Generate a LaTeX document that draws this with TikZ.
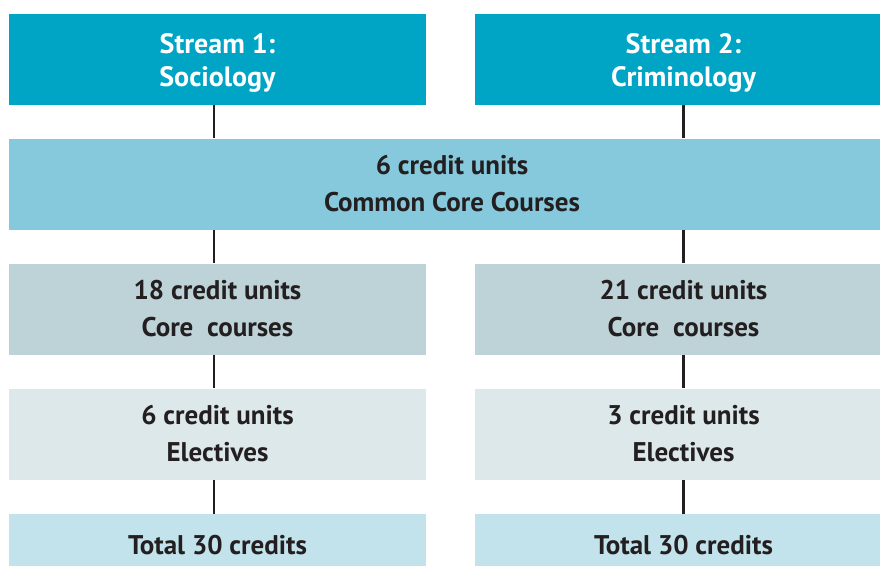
\documentclass[tikz,border=0pt]{standalone}
\usepackage{fontspec}
\setmainfont{PT Sans}
\usepackage{tikz}
\usetikzlibrary{calc}

\definecolor{streamblue}{HTML}{00A4C5}
\definecolor{commonblue}{HTML}{86C9DC}
\definecolor{coregray}{HTML}{BED3D8}
\definecolor{electgray}{HTML}{DDE8EB}
\definecolor{totalblue}{HTML}{C2E2EC}
\definecolor{ink}{HTML}{231F20}

\tikzset{box/.style={inner sep=0, align=center, font=\bfseries\fontsize{27}{37}\selectfont, text=ink,
    minimum width=417, minimum height=91}}
\tikzset{stream/.style={box, fill=streamblue, text=white, font=\bfseries\fontsize{28}{33}\selectfont}}
\tikzset{link/.style={ink, line width=2.5}}

\begin{document}
\begin{tikzpicture}[x=1pt,y=-1pt]
\clip (0,0) rectangle (880,565);
\fill[white] (0,0) rectangle (880,565);
% streams
\node[stream] (s1) at (217.5,59.5) {\rule{0pt}{26pt}Stream 1:\\Sociology};
\node[stream] (s2) at (683.5,59.5) {\rule{0pt}{26pt}Stream 2:\\Criminology};
% common core
\node[box, fill=commonblue, minimum width=886] (common) at (452,184) {6 credit units\\Common Core Courses};
% core
\node[box, fill=coregray] (core1) at (217.5,309) {18 credit units\\Core\ \ courses};
\node[box, fill=coregray] (core2) at (683.5,309) {21 credit units\\Core\ \ courses};
% electives
\node[box, fill=electgray] (elec1) at (217.5,434) {6 credit units\\Electives};
\node[box, fill=electgray] (elec2) at (683.5,434) {3 credit units\\Electives};
% totals
\node[box, fill=totalblue, minimum height=62] (tot1) at (217.5,545) {Total 30 credits};
\node[box, fill=totalblue, minimum height=62] (tot2) at (683.5,545) {Total 30 credits};
% links (left column sits a little left of centre)
\draw[link] ([xshift=-3.5]s1.south) -- ([xshift=-3.5]s1.south |- common.north);
\draw[link] (s2.south) -- (s2.south |- common.north);
\draw[link] ([xshift=-3.5]common.south -| core1.north) -- ([xshift=-3.5]core1.north);
\draw[link] (common.south -| core2.north) -- (core2.north);
\foreach \a/\b in {core1/elec1,elec1/tot1}
  \draw[link] ([xshift=-3.5]\a.south) -- ([xshift=-3.5]\b.north);
\foreach \a/\b in {core2/elec2,elec2/tot2}
  \draw[link] (\a.south) -- (\b.north);
\end{tikzpicture}
\end{document}
